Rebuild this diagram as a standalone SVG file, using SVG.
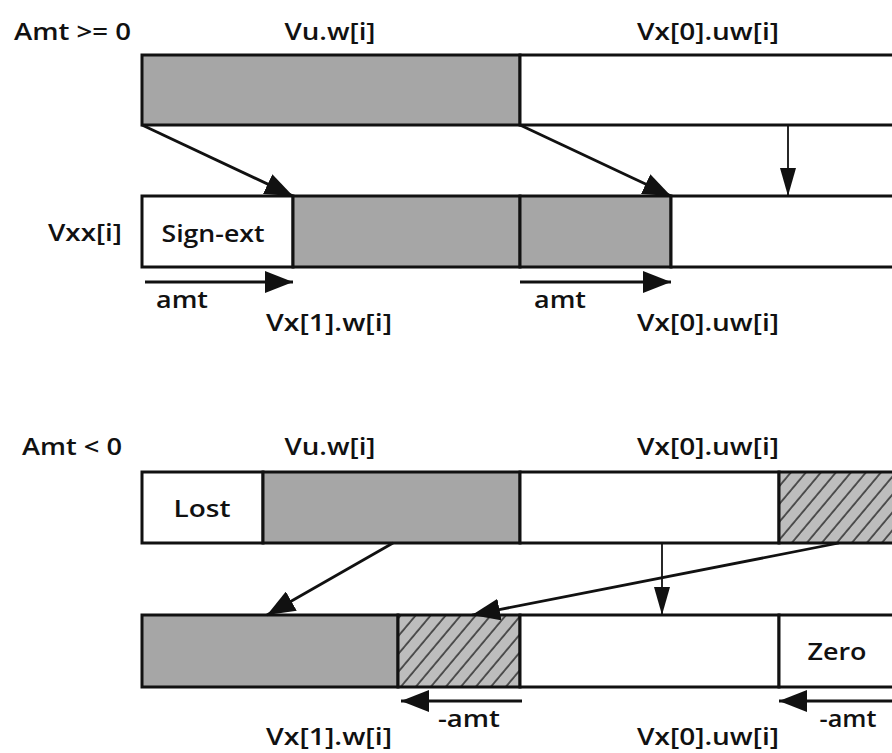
<svg xmlns="http://www.w3.org/2000/svg" width="892" height="753" viewBox="0 0 892 753">
<style>
text{font-family:"Open Sans","Noto Sans","Liberation Sans",sans-serif;font-weight:600;font-size:23px;fill:#111;}
.m{text-anchor:middle;}
.cell{stroke:#111;stroke-width:3;}
.g{fill:#a6a6a6;}
.w{fill:#fff;}
.h{fill:url(#hatch);}
.c{stroke:#111;stroke-width:2.8;fill:none;}
.t{stroke:#111;stroke-width:1.8;fill:none;}
</style>
<defs>
<pattern id="hatch" patternUnits="userSpaceOnUse" width="11.5" height="11.5" patternTransform="rotate(40)">
<rect width="11.5" height="11.5" fill="#bdbdbd"/>
<line x1="1" y1="0" x2="1" y2="11.5" stroke="#222" stroke-width="1.4"/>
</pattern>
<marker id="ah" viewBox="0 0 28 22" refX="28" refY="11" markerWidth="28" markerHeight="22" markerUnits="userSpaceOnUse" orient="auto">
<path d="M0,0 L28,11 L0,22 z" fill="#111"/>
</marker>
<marker id="ahs" viewBox="0 0 28 16" refX="28" refY="8" markerWidth="28" markerHeight="16" markerUnits="userSpaceOnUse" orient="auto">
<path d="M0,0 L28,8 L0,16 z" fill="#111"/>
</marker>
</defs>

<!-- Amt >= 0 source register -->
<g id="src1-vu"><rect class="cell g" x="142" y="55" width="378" height="70"/></g>
<g id="src1-vx0"><rect class="cell w" x="520" y="55" width="380" height="70"/></g>

<!-- Amt >= 0 destination register -->
<g id="dst1-signext"><rect class="cell w" x="142" y="196" width="151" height="71"/><text class="m" x="213" y="242" textLength="103" lengthAdjust="spacingAndGlyphs">Sign-ext</text></g>
<g id="dst1-vx1"><rect class="cell g" x="293" y="196" width="227" height="71"/></g>
<g id="dst1-vx0a"><rect class="cell g" x="520" y="196" width="151" height="71"/></g>
<g id="dst1-vx0b"><rect class="cell w" x="671" y="196" width="229" height="71"/></g>

<!-- Amt < 0 source register -->
<g id="src2-lost"><rect class="cell w" x="142" y="472" width="121" height="71"/><text class="m" x="202" y="517" textLength="57" lengthAdjust="spacingAndGlyphs">Lost</text></g>
<g id="src2-vu"><rect class="cell g" x="263" y="472" width="257" height="71"/></g>
<g id="src2-vx0"><rect class="cell w" x="520" y="472" width="259" height="71"/></g>
<g id="src2-hatch"><rect class="cell h" x="779" y="472" width="121" height="71"/></g>

<!-- Amt < 0 destination register -->
<g id="dst2-vx1"><rect class="cell g" x="142" y="615" width="256" height="72"/></g>
<g id="dst2-hatch"><rect class="cell h" x="398" y="615" width="122" height="72"/></g>
<g id="dst2-vx0"><rect class="cell w" x="520" y="615" width="259" height="72"/></g>
<g id="dst2-zero"><rect class="cell w" x="779" y="615" width="121" height="72"/><text class="m" x="837" y="660" textLength="59" lengthAdjust="spacingAndGlyphs">Zero</text></g>

<!-- connectors -->
<g id="connectors">
<line class="c" x1="142" y1="125" x2="293" y2="196" marker-end="url(#ah)"/>
<line class="c" x1="520" y1="125" x2="671" y2="196" marker-end="url(#ah)"/>
<line class="t" x1="788" y1="125" x2="788" y2="196" marker-end="url(#ahs)"/>
<line class="c" x1="145" y1="282" x2="293" y2="282" marker-end="url(#ah)"/>
<line class="c" x1="520" y1="282" x2="671" y2="282" marker-end="url(#ah)"/>
<line class="c" x1="393" y1="543" x2="267" y2="615" marker-end="url(#ah)"/>
<line class="c" x1="839" y1="543" x2="472" y2="615" marker-end="url(#ah)"/>
<line class="t" x1="662" y1="543" x2="662" y2="615" marker-end="url(#ahs)"/>
<line class="c" x1="522" y1="701" x2="401" y2="701" marker-end="url(#ah)"/>
<line class="c" x1="892" y1="701" x2="779" y2="701" marker-end="url(#ah)"/>
</g>

<!-- labels -->
<g id="labels">
<text x="14" y="40" textLength="117" lengthAdjust="spacingAndGlyphs">Amt &gt;= 0</text>
<text class="m" x="330" y="40" textLength="91" lengthAdjust="spacingAndGlyphs">Vu.w[i]</text>
<text class="m" x="708" y="40" textLength="142" lengthAdjust="spacingAndGlyphs">Vx[0].uw[i]</text>
<text class="m" x="85" y="241" textLength="74" lengthAdjust="spacingAndGlyphs">Vxx[i]</text>
<text class="m" x="182" y="308" textLength="52" lengthAdjust="spacingAndGlyphs">amt</text>
<text class="m" x="329" y="331" textLength="126" lengthAdjust="spacingAndGlyphs">Vx[1].w[i]</text>
<text class="m" x="560" y="308" textLength="52" lengthAdjust="spacingAndGlyphs">amt</text>
<text class="m" x="708" y="331" textLength="142" lengthAdjust="spacingAndGlyphs">Vx[0].uw[i]</text>
<text x="22" y="455" textLength="100" lengthAdjust="spacingAndGlyphs">Amt &lt; 0</text>
<text class="m" x="330" y="455" textLength="91" lengthAdjust="spacingAndGlyphs">Vu.w[i]</text>
<text class="m" x="708" y="455" textLength="142" lengthAdjust="spacingAndGlyphs">Vx[0].uw[i]</text>
<text class="m" x="469" y="727" textLength="62" lengthAdjust="spacingAndGlyphs">-amt</text>
<text class="m" x="848" y="727" textLength="57" lengthAdjust="spacingAndGlyphs">-amt</text>
<text class="m" x="329" y="745" textLength="126" lengthAdjust="spacingAndGlyphs">Vx[1].w[i]</text>
<text class="m" x="708" y="745" textLength="142" lengthAdjust="spacingAndGlyphs">Vx[0].uw[i]</text>
</g>
</svg>
